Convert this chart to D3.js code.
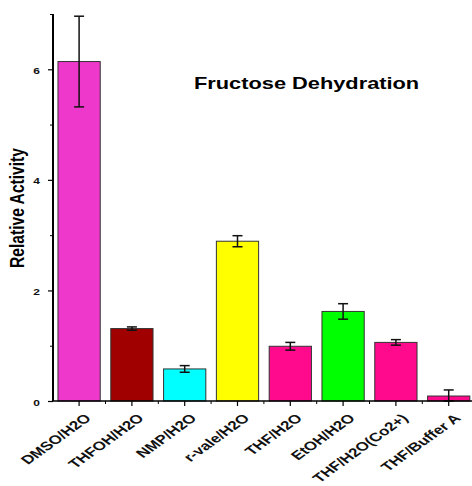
<!DOCTYPE html>
<html>
<head>
<meta charset="utf-8">
<script src="https://cdn.jsdelivr.net/npm/d3@7"></script>
<style>
  body { margin: 0; background: #fff; }
  svg { font-family: Arial, "Liberation Sans", sans-serif; }
  .bar { stroke: #333; stroke-width: 1px; }
  .err { stroke: #111; stroke-width: 1.5px; fill: none; }
</style>
</head>
<body>
<svg id="chart"></svg>
<script>
// categories and values
var categories = ["DMSO/H2O", "THFOH/H2O", "NMP/H2O", "r-vale/H2O", "THF/H2O", "EtOH/H2O", "THF/H2O(Co2+)", "THF/Buffer A"]
var activity = [6.14, 1.31, 0.58, 2.89, 0.99, 1.62, 1.06, 0.09]
var errors = [0.82, 0.03, 0.06, 0.10, 0.07, 0.14, 0.05, 0.11]
var barColors = ["#EE37CB", "#A00000", "#00FFFF", "#FFFF00", "#FF0A8C", "#00FF00", "#FF0A8C", "#FF0A8C"]
var yTicks = [0, 2, 4, 6]
var yMinor = [1, 3, 5, 7]

var width = 472, height = 486
var margin = {top: 14, right: 0, bottom: 85, left: 53}
// the original figure looks squashed vertically, texts get the same squash
var squash = 0.72

var svg = d3.select("#chart")
  .attr("width", width)
  .attr("height", height)

var x = d3.scaleBand()
  .domain(categories)
  .range([52.7, 475.1])
  .paddingInner(0.2)
  .paddingOuter(0.1)

var y = d3.scaleLinear()
  .domain([0, 7])
  .range([401, 14])

// bars
svg.selectAll(".bar")
  .data(categories)
  .enter().append("rect")
    .attr("class", "bar")
    .attr("x", function(d) { return x(d) })
    .attr("width", x.bandwidth())
    .attr("y", function(d, i) { return y(activity[i]) })
    .attr("height", function(d, i) { return y(0) - y(activity[i]) })
    .attr("fill", function(d, i) { return barColors[i] })

// error bars
var cap = 5
var eg = svg.selectAll(".errg")
  .data(categories)
  .enter().append("g")
    .attr("class", "err")
eg.append("line")
  .attr("x1", function(d) { return x(d) + x.bandwidth() / 2 })
  .attr("x2", function(d) { return x(d) + x.bandwidth() / 2 })
  .attr("y1", function(d, i) { return y(activity[i] + errors[i]) })
  .attr("y2", function(d, i) { return y(Math.max(0, activity[i] - errors[i])) })
eg.append("line")
  .attr("x1", function(d) { return x(d) + x.bandwidth() / 2 - cap })
  .attr("x2", function(d) { return x(d) + x.bandwidth() / 2 + cap })
  .attr("y1", function(d, i) { return y(activity[i] + errors[i]) })
  .attr("y2", function(d, i) { return y(activity[i] + errors[i]) })
eg.append("line")
  .attr("x1", function(d) { return x(d) + x.bandwidth() / 2 - cap })
  .attr("x2", function(d) { return x(d) + x.bandwidth() / 2 + cap })
  .attr("y1", function(d, i) { return y(Math.max(0, activity[i] - errors[i])) })
  .attr("y2", function(d, i) { return y(Math.max(0, activity[i] - errors[i])) })

// y axis
var yAxis = svg.append("g")
  .attr("transform", "translate(" + margin.left + ",0)")
  .call(d3.axisLeft(y).tickValues(yTicks).tickSize(5).tickPadding(8).tickFormat(d3.format("d")))
yAxis.select(".domain").attr("stroke-width", 2).attr("d", "M0," + y(7) + "V" + y(0))
yAxis.selectAll(".tick line").attr("stroke-width", 1.2)
yAxis.selectAll("text").attr("font-size", 12).attr("font-weight", "bold").attr("fill", "#111")
  .attr("dy", null).attr("y", 0)
  .attr("transform", "translate(0,4) scale(1," + squash + ")")

svg.append("g")
  .attr("transform", "translate(" + margin.left + ",0)")
  .call(d3.axisLeft(y).tickValues(yMinor).tickSize(3).tickFormat(""))
  .call(function(g) { g.select(".domain").remove() })

// x axis
var xAxis = svg.append("g")
  .attr("transform", "translate(0," + y(0) + ")")
  .call(d3.axisBottom(x).tickSize(5).tickSizeOuter(0))
xAxis.select(".domain").attr("stroke-width", 1.5).attr("d", "M" + margin.left + ",0H" + width)
xAxis.selectAll(".tick line").attr("stroke-width", 1.2)
xAxis.selectAll("text")
  .attr("font-size", 17)
  .attr("font-weight", "bold")
  .attr("fill", "#111")
  .attr("text-anchor", "end")
  .attr("dy", null)
  .attr("y", 0)
  .attr("x", 0)
  .attr("transform", "translate(13,18) scale(1," + squash + ") rotate(-45)")

// minor x ticks between bars
svg.append("g")
  .selectAll("line")
  .data(categories.slice(1))
  .enter().append("line")
    .attr("x1", function(d) { return x(d) - x.step() * x.paddingInner() / 2 })
    .attr("x2", function(d) { return x(d) - x.step() * x.paddingInner() / 2 })
    .attr("y1", y(0))
    .attr("y2", y(0) + 3)
    .attr("stroke", "#000")

// title
svg.append("text")
  .attr("transform", "translate(194,89) scale(1," + squash + ")")
  .attr("font-size", 21.8)
  .attr("font-weight", "bold")
  .attr("fill", "#000")
  .text("Fructose Dehydration")

// y label
svg.append("text")
  .attr("transform", "translate(24,208) rotate(-90) scale(0.78,1)")
  .attr("text-anchor", "middle")
  .attr("font-size", 20)
  .attr("font-weight", "bold")
  .attr("fill", "#000")
  .text("Relative Activity")
</script>
</body>
</html>
